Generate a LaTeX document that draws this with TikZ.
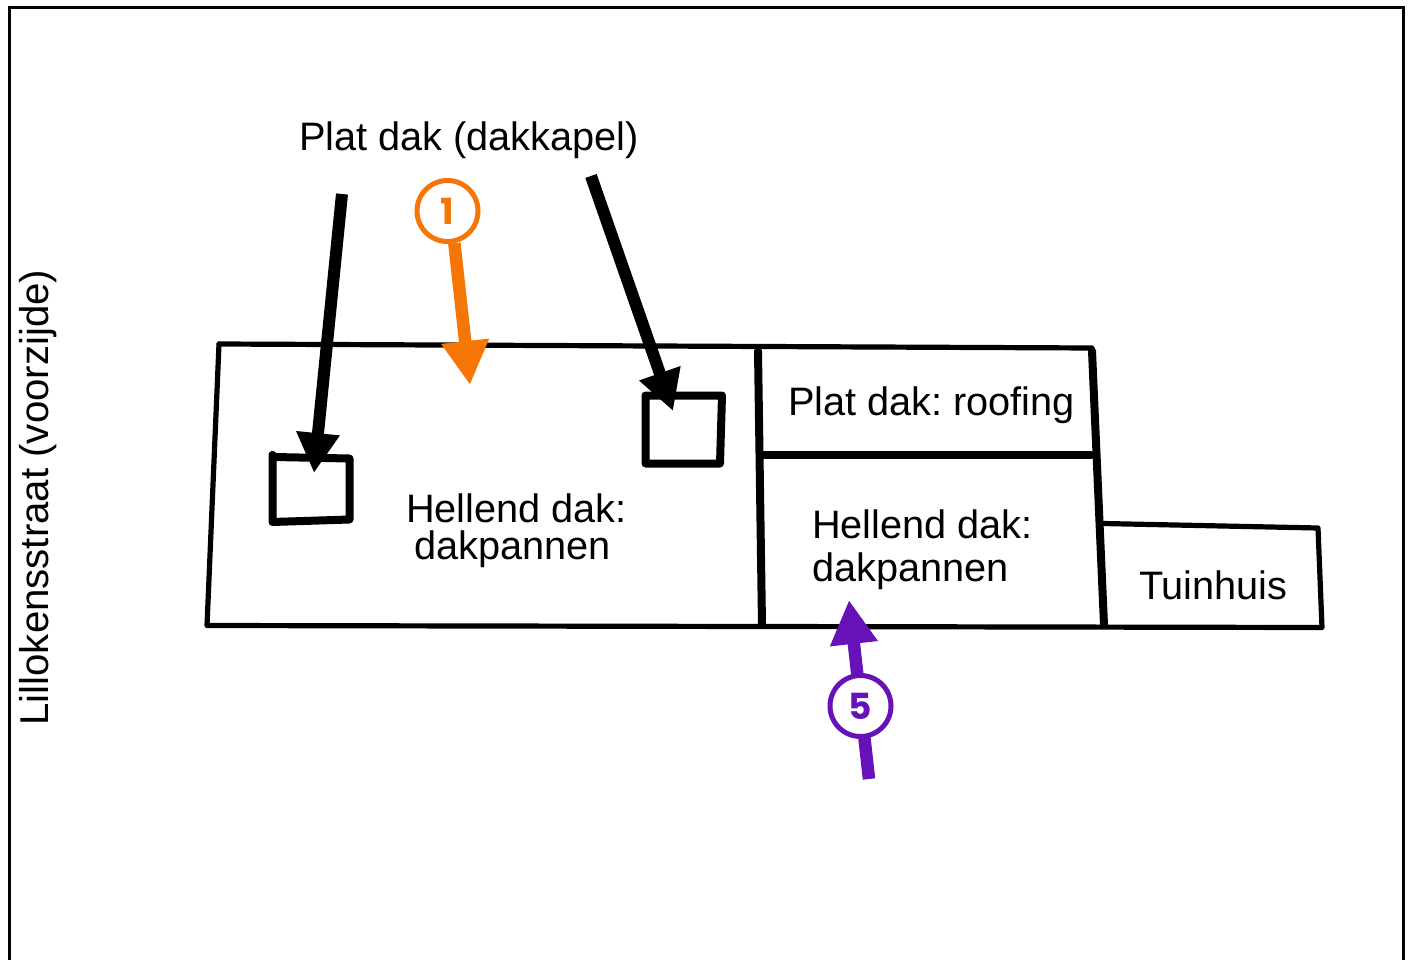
\documentclass[tikz,border=0pt]{standalone}
\usepackage{fontspec}
\setmainfont{Liberation Sans}
\newfontfamily\digitfont{Poppins}
\usetikzlibrary{arrows.meta}
\definecolor{ornge}{HTML}{F57505}
\definecolor{purp}{HTML}{6612B8}
\tikzset{
  x=1pt,y=-1pt,
  frameline/.style={draw=black,line width=3pt},
  wall/.style={draw=black,line width=5.2pt,line join=round,line cap=round},
  divider/.style={draw=black,line width=8pt,line cap=round},
  dormer/.style={draw=black,line width=8pt,line join=round,line cap=round},
  lbl/.style={anchor=base west,inner sep=0pt,outer sep=0pt,font=\fontsize{39.7}{48}\selectfont},
  blackarrow/.style={draw=black,line width=12pt,-{Triangle[length=40pt,width=41pt]}},
  numarrow/.style={line width=12.5pt,-{Triangle[length=44pt,width=45pt]}},
  badge/.style={circle,fill=white,line width=5pt,minimum size=61pt,inner sep=0pt,font=\digitfont\bfseries\fontsize{36}{36}\selectfont},
}
\begin{document}
\frenchspacing
\begin{tikzpicture}
\useasboundingbox (0,0) rectangle (1408,960);
\draw[frameline] (9.5,960) -- (9.5,8) -- (1403,8) -- (1403,960);
% plan
\draw[wall] (219,344) -- (1092,348);
\draw[wall] (219,344) -- (207,625.5) -- (1322,627.5) -- (1318,528) -- (1103,523.5);
\draw[divider] (758,351) -- (762,625);
\draw[divider] (762,455) -- (1091,455);
\draw[divider] (1092,351) -- (1104,625);
\draw[dormer] (272.5,455) -- (274,457) -- (349.5,458.5) -- (349.5,519.5) -- (272.5,522) -- cycle;
\draw[dormer] (645.5,395.5) -- (722,395.5) -- (720,463.5) -- (645.5,463.5) -- cycle;
% labels
\node[lbl] (t1) at (299,151) {Plat dak (dakkapel)};
\node[lbl,rotate=90,font=\fontsize{40.2}{48}\selectfont] (t2) at (48.5,725.5) {Lillokensstraat (voorzijde)};
\node[lbl] (t3) at (406,522) {Hellend dak:};
\node[lbl] (t4) at (414,559) {dakpannen};
\node[lbl] (t5) at (788,415) {Plat dak: roofing};
\node[lbl] (t6) at (812,538) {Hellend dak:};
\node[lbl] (t7) at (812,581) {dakpannen};
\node[lbl] (t8) at (1139,599) {Tuinhuis};
% black arrows
\coordinate (b1s) at (342,194);
\coordinate (b1e) at (314,473);
\coordinate (b2s) at (591,176);
\coordinate (b2e) at (673,411);
\draw[blackarrow] (b1s) -- (b1e);
\draw[blackarrow] (b2s) -- (b2e);
% numbered arrows
\node[badge,draw=ornge,text=ornge] (c1) at (447.5,211) {1};
\coordinate (o1e) at (470,385);
\draw[numarrow,color=ornge] (c1.-78) -- (o1e);
\coordinate (p1s) at (869,779);
\coordinate (p1e) at (849,600);
\draw[numarrow,color=purp] (p1s) -- (p1e);
\node[badge,draw=purp,text=purp] (c5) at (860.5,706) {5};
\end{tikzpicture}
\end{document}
